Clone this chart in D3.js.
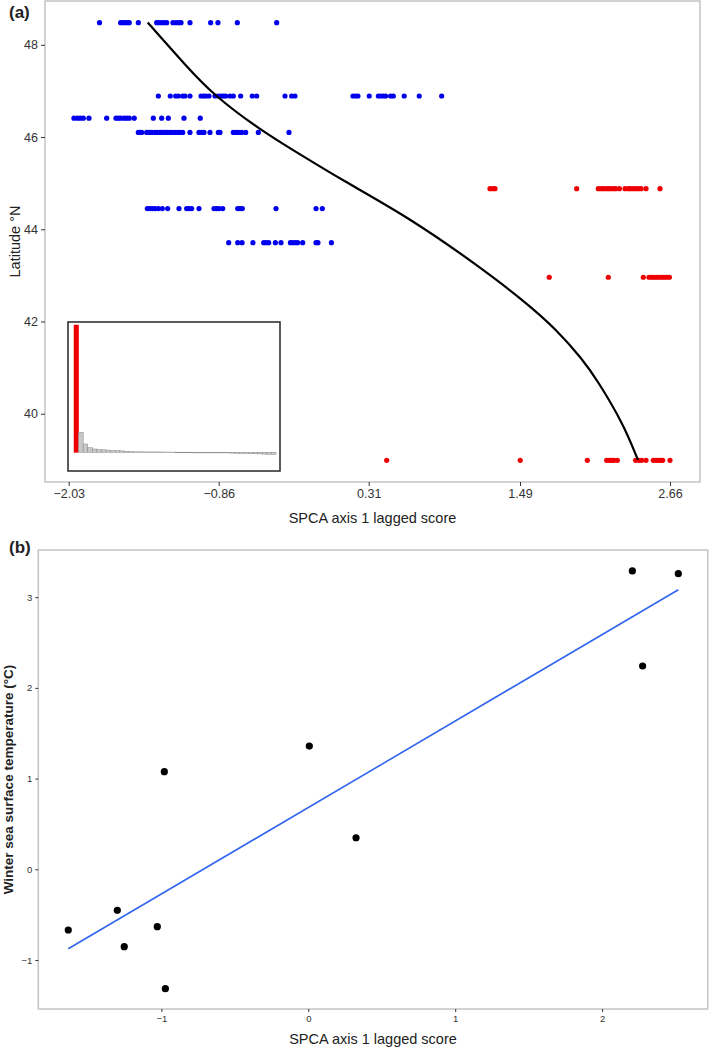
<!DOCTYPE html>
<html>
<head>
<meta charset="utf-8">
<script src="https://cdn.jsdelivr.net/npm/d3@7"></script>
<style>
  body { margin: 0; background: #fff; }
  svg { display: block; font-family: "Liberation Sans", Arial, sans-serif; }
</style>
</head>
<body>
<svg id="chart" width="709" height="1047"></svg>
<script>
// ---------------- DATA: panel (a) ----------------
const blueLatitudes = [48.48, 46.89, 46.41, 46.10, 44.45, 43.71];
const blueScores = [
  [-1.79,-1.625,-1.607,-1.591,-1.573,-1.558,-1.487,-1.344,-1.326,-1.305,-1.287,-1.266,-1.217,-1.193,-1.172,-1.154,-1.084,-0.923,-0.866,-0.715,-0.408],
  [-1.331,-1.238,-1.196,-1.175,-1.141,-1.123,-1.084,-0.998,-0.977,-0.959,-0.936,-0.889,-0.863,-0.842,-0.824,-0.806,-0.772,-0.746,-0.689,-0.598,-0.564,-0.343,-0.291,-0.265,0.187,0.207,0.226,0.314,0.385,0.403,0.424,0.442,0.481,0.502,0.587,0.704,0.879],
  [-1.989,-1.963,-1.940,-1.916,-1.872,-1.734,-1.661,-1.643,-1.625,-1.599,-1.578,-1.558,-1.519,-1.370,-1.305,-1.253,-1.131,-1.004],
  [-1.487,-1.474,-1.461,-1.422,-1.402,-1.383,-1.357,-1.339,-1.318,-1.300,-1.279,-1.261,-1.240,-1.222,-1.201,-1.180,-1.162,-1.141,-1.084,-1.014,-0.993,-0.975,-0.928,-0.863,-0.850,-0.746,-0.725,-0.707,-0.681,-0.650,-0.551,-0.312],
  [-1.417,-1.396,-1.378,-1.357,-1.331,-1.300,-1.258,-1.170,-1.110,-1.092,-1.071,-1.014,-0.897,-0.876,-0.858,-0.829,-0.712,-0.694,-0.676,-0.413,-0.101,-0.052],
  [-0.782,-0.712,-0.678,-0.593,-0.509,-0.491,-0.470,-0.418,-0.374,-0.301,-0.283,-0.262,-0.244,-0.205,-0.101,-0.086,0.019]
];
const redLatitudes = [44.88, 42.96, 38.99];
const redScores = [
  [1.256,1.277,1.295,1.932,2.101,2.122,2.140,2.161,2.179,2.197,2.218,2.236,2.265,2.309,2.335,2.353,2.374,2.392,2.413,2.434,2.473,2.582],
  [1.718,2.179,2.452,2.496,2.517,2.535,2.556,2.574,2.595,2.613,2.634,2.655],
  [0.450,1.492,2.015,2.166,2.187,2.205,2.223,2.249,2.392,2.418,2.439,2.473,2.530,2.551,2.569,2.587,2.603,2.660]
];
const curveScore = [-1.414,-1.110,-0.902,-0.538,-0.226,0.086,0.609,1.123,1.513,1.779,1.981,2.091,2.293,2.410];
const curveLat   = [48.484,47.529,46.915,46.156,45.625,45.093,44.280,43.293,42.469,41.818,41.167,40.733,39.800,38.998];
const xTicksA = [-2.03, -0.86, 0.31, 1.49, 2.66];
const yTicksA = [40, 42, 44, 46, 48];
// eigenvalues (inset barplot), arbitrary units
const eigenValues = [127,20,8.3,4.6,3.3,2.8,2.5,2.2,1.8,1.6,1.4,1.0,0.6,0.5,0.5,0.4,0.4,0.4,0.4,0.3,0.2,0.2,0.1,0.1,0.1,0.1,0.0,-0.1,-0.2,-0.2,-0.3,-0.4,-0.5,-0.6,-0.8,-1.0,-1.0,-1.1,-1.3,-1.5,-1.6,-1.8,-2.0,-2.0];

// ---------------- DATA: panel (b) ----------------
const sstScore = [-1.634,-1.300,-1.253,-1.028,-0.973,-0.980,0.007,0.325,2.206,2.519,2.276];
const sstTemp  = [-0.669,-0.452,-0.853,-0.633,-1.316,1.076,1.359,0.348,3.289,3.259,2.241];
const xTicksB = [-1, 0, 1, 2];
const yTicksB = [-1, 0, 1, 2, 3];

// ---------------- DRAW ----------------
const svg = d3.select("#chart");
const borderCol = "#c4c4c4", tickCol = "#333", labCol = "#333";

// ===== Panel (a) =====
const A = {l: 45, r: 700, t: 1, b: 482};
const xa = d3.scaleLinear().domain([-2.215, 2.894]).range([A.l, A.r]);
const ya = d3.scaleLinear().domain([38.52, 48.95]).range([A.b, A.t]);
const ga = svg.append("g");

ga.append("rect").attr("x", A.l).attr("y", A.t).attr("width", A.r - A.l).attr("height", A.b - A.t)
  .attr("fill", "#fff").attr("stroke", borderCol).attr("stroke-width", 1.5);

const axA_x = ga.append("g").attr("transform", `translate(0,${A.b})`)
  .call(d3.axisBottom(xa).tickValues(xTicksA).tickSize(4).tickPadding(3).tickFormat(d3.format(".2f")));
const axA_y = ga.append("g").attr("transform", `translate(${A.l},0)`)
  .call(d3.axisLeft(ya).tickValues(yTicksA).tickSize(4).tickPadding(3).tickFormat(d3.format("d")));
[axA_x, axA_y].forEach(ax => {
  ax.select(".domain").remove();
  ax.selectAll(".tick line").attr("stroke", tickCol).attr("stroke-width", 1);
  ax.selectAll(".tick text").attr("fill", labCol).style("font-size", "12.5px").style("font-family", "Liberation Sans, Arial, sans-serif");
});
axA_x.selectAll(".tick text").text(d => d.toFixed(2).replace("-", "\u2212"));

// dots
blueLatitudes.forEach((lat, i) => {
  ga.append("g").selectAll("circle").data(blueScores[i]).join("circle")
    .attr("cx", d => xa(d)).attr("cy", ya(lat)).attr("r", 2.6).attr("fill", "#0000ee");
});
redLatitudes.forEach((lat, i) => {
  ga.append("g").selectAll("circle").data(redScores[i]).join("circle")
    .attr("cx", d => xa(d)).attr("cy", ya(lat)).attr("r", 2.6).attr("fill", "#ee0000");
});

// curve
const curvePts = curveScore.map((s, i) => [s, curveLat[i]]);
ga.append("path").datum(curvePts)
  .attr("d", d3.line().x(d => xa(d[0])).y(d => ya(d[1])).curve(d3.curveBasis))
  .attr("fill", "none").attr("stroke", "#000").attr("stroke-width", 2.2);

// inset
const I = {l: 68, r: 280, t: 322, b: 471};
ga.append("rect").attr("x", I.l).attr("y", I.t).attr("width", I.r - I.l).attr("height", I.b - I.t)
  .attr("fill", "#fff").attr("stroke", "#333").attr("stroke-width", 1.6);
const xi = d3.scaleBand().domain(d3.range(eigenValues.length)).range([74, 276]).paddingInner(0);
const yi = d3.scaleLinear().domain([0, 127]).range([452.3, 325]);
ga.append("g").selectAll("rect").data(eigenValues).join("rect")
  .attr("x", (d, i) => xi(i)).attr("width", xi.bandwidth())
  .attr("y", d => Math.min(yi(d), yi(0))).attr("height", d => Math.max(0.6, Math.abs(yi(d) - yi(0))))
  .attr("fill", (d, i) => i === 0 ? "#ee0000" : "#c8c8c8")
  .attr("stroke", (d, i) => i === 0 ? "#ee0000" : "#8a8a8a").attr("stroke-width", 0.5);

// labels
ga.append("text").attr("x", 9).attr("y", 18).text("(a)")
  .style("font-weight", "bold").style("font-size", "17px").attr("fill", "#222");
ga.append("text").attr("transform", `translate(20,${(A.t + A.b) / 2}) rotate(-90)`)
  .attr("text-anchor", "middle").text("Latitude \u00B0N").style("font-size", "14.5px").attr("fill", "#222");
ga.append("text").attr("x", (A.l + A.r) / 2).attr("y", 523).attr("text-anchor", "middle")
  .text("SPCA axis 1 lagged score").style("font-size", "14.5px").attr("fill", "#222");

// ===== Panel (b) =====
const B = {l: 38.3, r: 707.7, t: 550, b: 1009};
const xb = d3.scaleLinear().domain([-1.838, 2.719]).range([B.l, B.r]);
const yb = d3.scaleLinear().domain([-1.540, 3.520]).range([B.b, B.t]);
const gb = svg.append("g");
gb.append("rect").attr("x", B.l).attr("y", B.t).attr("width", B.r - B.l).attr("height", B.b - B.t)
  .attr("fill", "#fff").attr("stroke", borderCol).attr("stroke-width", 1.5);

const axB_x = gb.append("g").attr("transform", `translate(0,${B.b})`)
  .call(d3.axisBottom(xb).tickValues(xTicksB).tickSize(3).tickPadding(3).tickFormat(d3.format("d")));
const axB_y = gb.append("g").attr("transform", `translate(${B.l},0)`)
  .call(d3.axisLeft(yb).tickValues(yTicksB).tickSize(3).tickPadding(3).tickFormat(d3.format("d")));
[axB_x, axB_y].forEach(ax => {
  ax.select(".domain").remove();
  ax.selectAll(".tick line").attr("stroke", tickCol).attr("stroke-width", 1);
  ax.selectAll(".tick text").attr("fill", labCol).style("font-size", "9.5px").style("font-family", "Liberation Sans, Arial, sans-serif");
});
axB_x.selectAll(".tick text").text(d => String(d).replace("-", "\u2212"));
axB_y.selectAll(".tick text").text(d => String(d).replace("-", "\u2212"));

// regression line (least squares from the points)
const mx = d3.mean(sstScore), my = d3.mean(sstTemp);
const sxy = d3.sum(sstScore, (x, i) => (x - mx) * (sstTemp[i] - my));
const sxx = d3.sum(sstScore, x => (x - mx) * (x - mx));
const slope = sxy / sxx, icpt = my - slope * mx;
const xr = d3.extent(sstScore);
gb.append("line")
  .attr("x1", xb(xr[0])).attr("y1", yb(icpt + slope * xr[0]))
  .attr("x2", xb(xr[1])).attr("y2", yb(icpt + slope * xr[1]))
  .attr("stroke", "#3366ee").attr("stroke-width", 1.6);

gb.append("g").selectAll("circle").data(sstScore).join("circle")
  .attr("cx", d => xb(d)).attr("cy", (d, i) => yb(sstTemp[i])).attr("r", 3.6).attr("fill", "#000");

gb.append("text").attr("x", 9).attr("y", 553).text("(b)")
  .style("font-weight", "bold").style("font-size", "17px").attr("fill", "#222");
gb.append("text").attr("transform", `translate(13,${(B.t + B.b) / 2}) rotate(-90)`)
  .attr("text-anchor", "middle").text("Winter sea surface temperature (\u00B0C)")
  .style("font-size", "13.5px").style("font-weight", "bold").attr("fill", "#222");
gb.append("text").attr("x", (B.l + B.r) / 2).attr("y", 1044).attr("text-anchor", "middle")
  .text("SPCA axis 1 lagged score").style("font-size", "14.5px").attr("fill", "#222");
</script>
</body>
</html>
